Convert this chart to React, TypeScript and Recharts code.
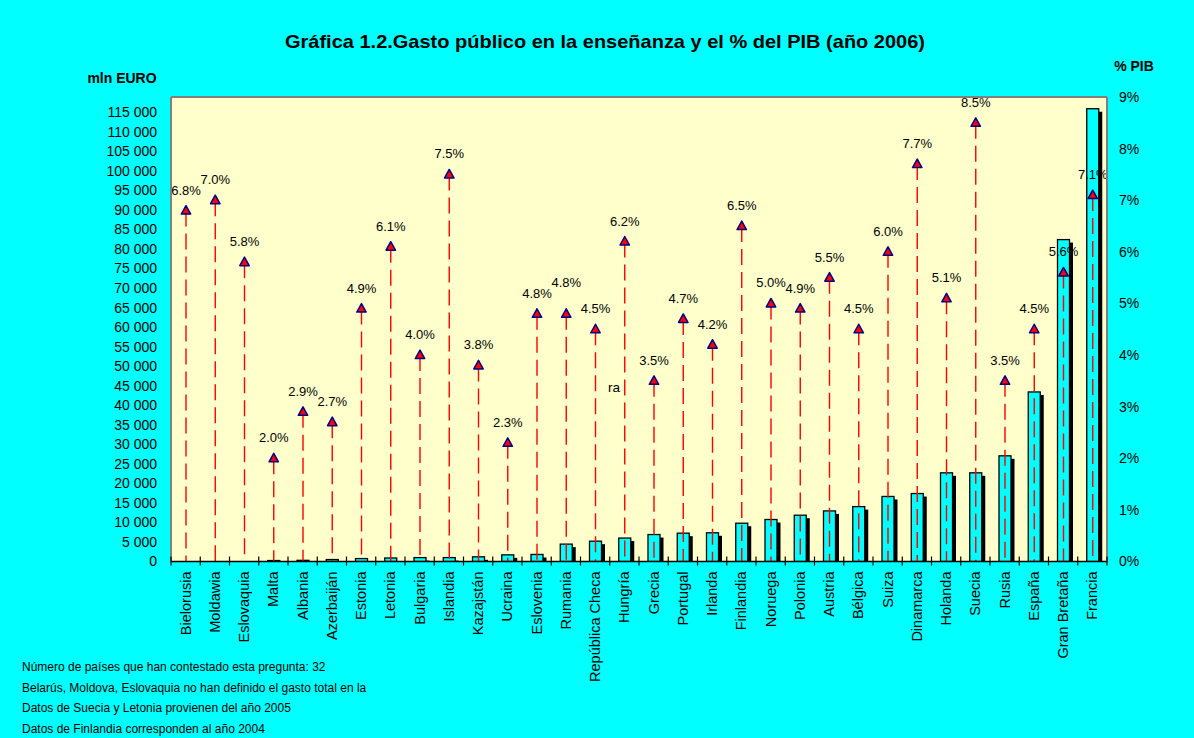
import { Bar, ComposedChart, ReferenceLine, XAxis, YAxis, CartesianGrid } from "recharts";

// countries in the order they appear on the axis
const paises = [
    "Bielorusia", "Moldawia", "Eslovaquia", "Malta", "Albania", "Azerbaiján", "Estonia", "Letonia",
    "Bulgaria", "Islandia", "Kazajstán", "Ucraina", "Eslovenia", "Rumania", "República Checa", "Hungría",
    "Grecia", "Portugal", "Irlanda", "Finlandia", "Noruega", "Polonia", "Austria", "Bélgica",
    "Suiza", "Dinamarca", "Holanda", "Suecia", "Rusia", "España", "Gran Bretaña", "Francia",
];

// public spending on education, mln EURO
const gasto = [
    0, 0, 0, 250, 300, 500, 750, 900,
    1000, 1000, 1200, 1700, 1800, 4450, 5200, 6000,
    6900, 7250, 7350, 9800, 10750, 11850, 12950, 14050,
    16650, 17400, 22700, 22700, 27050, 43400, 82400, 115900,
];

// spending as % of GDP
const pib = [
    6.8, 7.0, 5.8, 2.0, 2.9, 2.7, 4.9, 6.1,
    4.0, 7.5, 3.8, 2.3, 4.8, 4.8, 4.5, 6.2,
    3.5, 4.7, 4.2, 6.5, 5.0, 4.9, 5.5, 4.5,
    6.0, 7.7, 5.1, 8.5, 3.5, 4.5, 5.6, 7.1,
];

const gastoTicks = [
    0, 5000, 10000, 15000, 20000, 25000, 30000, 35000, 40000, 45000, 50000, 55000,
    60000, 65000, 70000, 75000, 80000, 85000, 90000, 95000, 100000, 105000, 110000, 115000,
];
const pibTicks = [0, 1, 2, 3, 4, 5, 6, 7, 8, 9];

const notas = [
    "Número de países que han contestado esta pregunta: 32",
    "Belarús, Moldova, Eslovaquia no han definido el gasto total en la",
    "Datos de Suecia y Letonia provienen del año 2005",
    "Datos de Finlandia corresponden al año 2004",
];

const data = paises.map((pais, i) => ({ pais, gasto: gasto[i], pib: pib[i] }));

const W = 1194;
const H = 738;
const PLOT_W = 936;
const BAND = PLOT_W / paises.length;
const FONT = "Arial, 'Liberation Sans', Helvetica, sans-serif";

const fmtMiles = (v: number) => String(v).replace(/\B(?=(\d{3})+(?!\d))/g, " ");

// cyan bar with a black drop shadow on the right
const ShadowBar = (p: any) => {
    const { x, y, width, height } = p;
    if (!height || height <= 0) return <g />;
    return (
        <g>
            <rect x={x + 3.5} y={y + 3} width={width} height={Math.max(height - 3, 0)} fill="#000" />
            <rect x={x} y={y} width={width} height={height} fill="#00FFFF" stroke="#000" strokeWidth={1.3} />
        </g>
    );
};

// dashed drop line + triangle + % label
const PibMarker = (p: any) => {
    const { x, y, width, height, payload, index } = p;
    const cx = x + width / 2;
    // excel nudged a label up when it would sit on top of its neighbour's identical label
    const lift = index > 0 && pib[index - 1] === payload.pib ? 11 : 0;
    return (
        <g>
            <line x1={cx} y1={y} x2={cx} y2={y + height} stroke="#FF0000" strokeWidth={1.4} strokeDasharray="16 7" />
            <polygon
                points={`${cx},${y - 5} ${cx - 4.7},${y + 3.5} ${cx + 4.7},${y + 3.5}`}
                fill="#FF0000"
                stroke="#000080"
                strokeWidth={1.5}
                strokeLinejoin="round"
            />
            <text x={cx} y={y - 16 - lift} textAnchor="middle" fontSize={13} fill="#000">
                {payload.pib.toFixed(1)}%
            </text>
        </g>
    );
};

const PaisTick = (p: any) => {
    const { x, y, payload, index } = p;
    const half = BAND / 2;
    return (
        <g>
            <line x1={x - half} y1={y - 5} x2={x - half} y2={y + 4} stroke="#000" strokeWidth={1.2} />
            {index === paises.length - 1 && (
                <line x1={x + half} y1={y - 5} x2={x + half} y2={y + 4} stroke="#000" strokeWidth={1.2} />
            )}
            <text transform={`translate(${x + 5},${y + 10}) rotate(-90)`} textAnchor="end" fontSize={14.5} fill="#000">
                {payload.value}
            </text>
        </g>
    );
};

export default function App() {
    return (
        <div style={{ position: "absolute", left: 0, top: 0, width: W, height: H, background: "#00FFFF", fontFamily: FONT }}>
            <ComposedChart
                width={W}
                height={H}
                data={data}
                margin={{ top: 97, right: 27, bottom: 46.5, left: 0 }}
                barGap={-12}
                style={{ position: "absolute", left: 0, top: 0 }}
            >
                <CartesianGrid horizontal={false} vertical={false} fill="#FFFFCC" />
                <XAxis
                    dataKey="pais"
                    interval={0}
                    height={130}
                    tickLine={false}
                    tickSize={0}
                    tickMargin={0}
                    axisLine={{ stroke: "#000", strokeWidth: 1.5 }}
                    tick={<PaisTick />}
                />
                <YAxis
                    yAxisId="left"
                    width={171}
                    domain={[0, 118900]}
                    ticks={gastoTicks}
                    interval={0}
                    tickFormatter={fmtMiles}
                    tickLine={false}
                    tickSize={0}
                    tickMargin={14}
                    axisLine={{ stroke: "#808080", strokeWidth: 2 }}
                    tick={{ fill: "#000", fontSize: 14 }}
                    allowDataOverflow
                />
                <YAxis
                    yAxisId="right"
                    orientation="right"
                    width={60}
                    domain={[0, 9]}
                    ticks={pibTicks}
                    interval={0}
                    tickFormatter={(v: number) => `${v}%`}
                    tickLine={false}
                    tickSize={0}
                    tickMargin={12}
                    axisLine={{ stroke: "#808080", strokeWidth: 2 }}
                    tick={{ fill: "#000", fontSize: 14, textAnchor: "start" }}
                />
                <ReferenceLine yAxisId="right" y={9} stroke="#808080" strokeWidth={2} />
                <Bar yAxisId="left" dataKey="gasto" barSize={12} shape={<ShadowBar />} isAnimationActive={false} />
                <Bar yAxisId="right" dataKey="pib" barSize={12} shape={<PibMarker />} isAnimationActive={false} />
            </ComposedChart>
            <svg width={W} height={H} style={{ position: "absolute", left: 0, top: 0, pointerEvents: "none" }}>
                <text x={605} y={48} textAnchor="middle" fontSize={19} fontWeight="bold" fill="#000" textLength={640} lengthAdjust="spacingAndGlyphs">
                    Gráfica 1.2.Gasto público en la enseñanza y el % del PIB (año 2006)
                </text>
                <text x={122} y={83} textAnchor="middle" fontSize={14} fontWeight="bold" fill="#000">
                    mln EURO
                </text>
                <text x={1134} y={71} textAnchor="middle" fontSize={14} fontWeight="bold" fill="#000">
                    % PIB
                </text>
                <text x={614} y={392} textAnchor="middle" fontSize={13.5} fill="#000">
                    ra
                </text>
                {notas.map((n, i) => (
                    <text key={i} x={22} y={671 + i * 20.5} fontSize={12} fill="#000">
                        {n}
                    </text>
                ))}
            </svg>
        </div>
    );
}
